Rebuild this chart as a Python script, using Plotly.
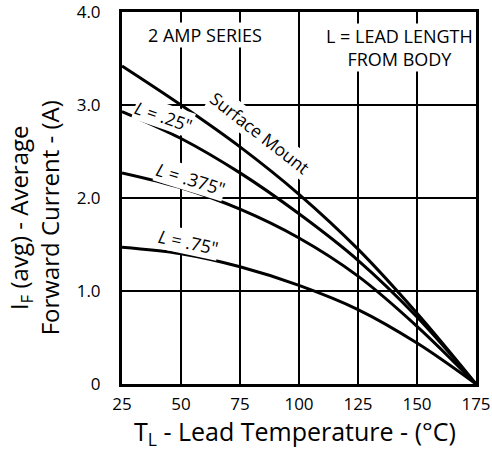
import plotly.graph_objects as go

temps = [25, 50, 75, 100, 125, 150, 175]
surface_mount = [3.42, 3.00, 2.55, 2.04, 1.45, 0.76, 0.0]
lead_025 = [2.93, 2.64, 2.27, 1.83, 1.33, 0.72, 0.0]
lead_0375 = [2.27, 2.11, 1.88, 1.57, 1.16, 0.62, 0.0]
lead_075 = [1.47, 1.40, 1.26, 1.06, 0.80, 0.44, 0.0]

x_ticks = [25, 50, 75, 100, 125, 150, 175]
y_ticks = [0, 1, 2, 3, 4]
y_tick_labels = ["0", "1.0", "2.0", "3.0", "4.0"]

FONT = "Open Sans"

fig = go.Figure()
for ys in [surface_mount, lead_025, lead_0375, lead_075]:
    fig.add_trace(go.Scatter(x=temps, y=ys, mode="lines",
                             line=dict(color="black", width=3, shape="spline", smoothing=1.0),
                             showlegend=False, cliponaxis=True, hoverinfo="skip"))

ann = []
def lab(text, x, y, angle=0, size=18, bg="white"):
    ann.append(dict(text=text, x=x, y=y, xref="x", yref="y", showarrow=False,
                    textangle=angle, font=dict(family=FONT, size=size, color="black"),
                    bgcolor=bg, borderpad=0))

lab("2 AMP SERIES", 60.2, 3.75)
lab("L = LEAD LENGTH<br>FROM BODY", 142.4, 3.62)
lab("Surface Mount", 83.6, 2.70, angle=38, size=17.5)
lab("<i>L</i> = .25\"", 42.4, 2.88, angle=19, size=17.5)
lab("<i>L</i> = .375\"", 54.2, 2.20, angle=17, size=18)
lab("<i>L</i> = .75\"", 53.0, 1.53, angle=12, size=18)

ann.append(dict(text="T<sub>L</sub> - Lead Temperature - (°C)", x=0.489, y=-0.13,
                xref="paper", yref="paper", showarrow=False, xanchor="center", yanchor="middle",
                font=dict(family=FONT, size=25, color="black")))
ann.append(dict(text="I<sub>F</sub> (avg) - Average<br>Forward Current - (A)", x=-0.248, y=0.446,
                xref="paper", yref="paper", showarrow=False, xanchor="center", yanchor="middle",
                textangle=-90, font=dict(family=FONT, size=24, color="black")))

fig.update_layout(
    width=492, height=451,
    margin=dict(l=122, r=16, t=12, b=67, autoexpand=False),
    paper_bgcolor="white", plot_bgcolor="white",
    hovermode=False,
    annotations=ann,
    xaxis=dict(range=[25, 175], tickvals=x_ticks, ticktext=[str(v) for v in x_ticks],
               showgrid=True, gridcolor="black", gridwidth=1.5, zeroline=False,
               showline=True, linecolor="black", linewidth=3, mirror=True,
               ticks="", ticklabelstandoff=3, automargin=False, ticklabeloverflow="allow",
               tickfont=dict(family=FONT, size=17, color="black")),
    yaxis=dict(range=[0, 4], tickvals=y_ticks, ticktext=y_tick_labels,
               showgrid=True, gridcolor="black", gridwidth=1.5, zeroline=False,
               showline=True, linecolor="black", linewidth=3, mirror=True,
               ticks="", ticklabelstandoff=15, automargin=False, ticklabeloverflow="allow",
               tickfont=dict(family=FONT, size=17, color="black")),
)

# remove the browser's default 8px page margin so the 492x451 figure fills the window
fig.write_html("out.html", config={"displayModeBar": False},
               post_script="document.body.style.margin='0';")
